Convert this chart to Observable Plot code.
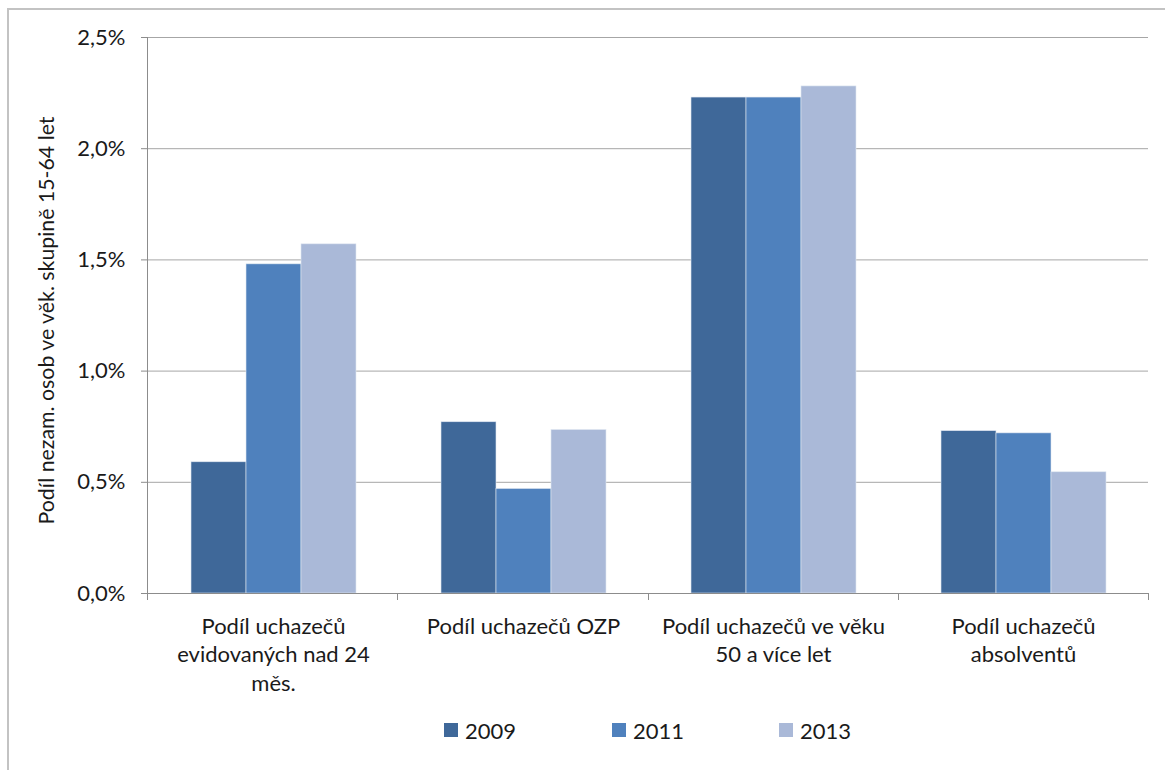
<!DOCTYPE html>
<html>
<head>
<meta charset="utf-8">
<script src="https://cdn.jsdelivr.net/npm/d3@7"></script>
<script src="https://cdn.jsdelivr.net/npm/@observablehq/plot@0.6"></script>
<style>
  html, body { margin: 0; padding: 0; background: #fff; }
  body { width: 1165px; height: 770px; position: relative; overflow: hidden; font-family: Lato, "Liberation Sans", sans-serif; color: #1a1a1a; }
  #frame { position: absolute; left: 7px; top: 8px; width: 1200px; height: 800px; border-left: 2px solid #c3c3c3; border-top: 2px solid #c3c3c3; box-sizing: border-box; pointer-events: none; }
  #chart { position: absolute; left: 0; top: 0; }
  #legend { position: absolute; left: 0; top: 710px; height: 40px; width: 1165px; }
  .item { position: absolute; top: 0; height: 40px; display: flex; align-items: center; font-size: 22px; }
  .sw { width: 14px; height: 14px; margin-right: 7px; }
</style>
</head>
<body>
<div id="chart"></div>
<div id="legend"></div>
<div id="frame"></div>
<script>
// ---- data ----
const categories = [
  "Podíl uchazečů\nevidovaných nad 24\nměs.",
  "Podíl uchazečů OZP",
  "Podíl uchazečů ve věku\n50 a více let",
  "Podíl uchazečů\nabsolventů"
];
const years = ["2009", "2011", "2013"];
const values2009 = [0.59, 0.77, 2.23, 0.73];
const values2011 = [1.48, 0.47, 2.23, 0.72];
const values2013 = [1.57, 0.735, 2.28, 0.545];
const colors = ["#3f6899", "#4f81bd", "#aab9d8"];
const yTicks = [0, 0.5, 1.0, 1.5, 2.0, 2.5];
const yTitle = "Podíl nezam. osob ve věk. skupině 15-64 let";

const series = [values2009, values2011, values2013];
const rows = [];
categories.forEach((c, i) => years.forEach((y, j) => rows.push({category: c, year: y, value: series[j][i]})));

const fmt = d => d.toFixed(1).replace(".", ",") + "%";

const chart = Plot.plot({
  width: 1165,
  height: 710,
  marginTop: 37,
  marginLeft: 147,
  marginRight: 17,
  marginBottom: 117,
  style: {fontFamily: "Lato, 'Liberation Sans', sans-serif", fontSize: "22px", color: "#1a1a1a", background: "transparent"},
  fx: {domain: categories, padding: 0, label: null},
  x: {domain: years, paddingInner: 0, paddingOuter: 0.76, axis: null},
  y: {domain: [0, 2.5], label: null},
  color: {domain: years, range: colors},
  marks: [
    Plot.gridY(yTicks, {stroke: "#a6a6a6", strokeOpacity: 1, strokeWidth: 1}),
    Plot.barY(rows, {fx: "category", x: "year", y: "value", fill: "year", stroke: "#dfe6f0", strokeWidth: 0.6}),
    Plot.axisY(yTicks, {tickFormat: fmt, tickSize: 7, tickPadding: 16, stroke: "#8c8c8c", fontSize: 22, label: null}),
    Plot.axisFx({anchor: "bottom", tickSize: 0, tickPadding: 20, fontSize: 22, lineHeight: 1.3, label: null}),
    Plot.text([yTitle], {frameAnchor: "left", textAnchor: "middle", dx: -101, dy: 5, rotate: -90, fontSize: 21.3, facet: "super"})
  ]
});
document.getElementById("chart").appendChild(chart);

// axis line, baseline and category boundary ticks, from the chart's own scales
(function () {
  const fxS = chart.scale("fx");
  const yS = chart.scale("y");
  const [x0, x1] = fxS.range;
  const yBase = Math.max(...yS.range);
  const yTop = Math.min(...yS.range);
  const step = (x1 - x0) / fxS.domain.length;
  const xs = d3.range(fxS.domain.length + 1).map(i => x0 + i * step);
  const g = d3.select(chart).append("g").attr("stroke", "#8c8c8c").attr("stroke-width", 1);
  g.append("line").attr("x1", x0 + 0.5).attr("x2", x0 + 0.5).attr("y1", yTop).attr("y2", yBase);
  g.append("line").attr("x1", x0).attr("x2", x1).attr("y1", yBase + 0.5).attr("y2", yBase + 0.5);
  xs.forEach(x => g.append("line").attr("x1", Math.round(x) + 0.5).attr("x2", Math.round(x) + 0.5).attr("y1", yBase).attr("y2", yBase + 7));
})();

// legend
const legend = document.getElementById("legend");
const legendLeft = [444, 612, 779];
years.forEach((y, i) => {
  const it = document.createElement("div");
  it.className = "item";
  it.style.left = legendLeft[i] + "px";
  const sw = document.createElement("span");
  sw.className = "sw";
  sw.style.background = colors[i];
  const t = document.createElement("span");
  t.textContent = y;
  it.appendChild(sw); it.appendChild(t);
  legend.appendChild(it);
});
</script>
</body>
</html>
